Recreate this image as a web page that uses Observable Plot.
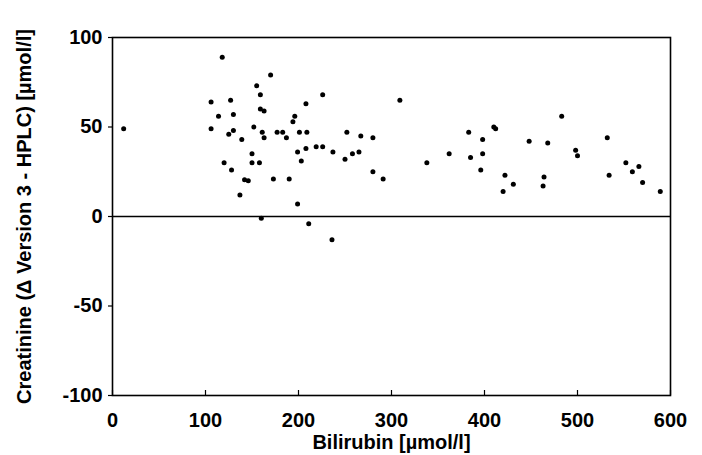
<!DOCTYPE html>
<html>
<head>
<meta charset="utf-8">
<script src="https://cdn.jsdelivr.net/npm/d3@7"></script>
<script src="https://cdn.jsdelivr.net/npm/@observablehq/plot@0.6"></script>
<style>
  html, body { margin: 0; padding: 0; background: #fff; }
  #chart svg { display: block; }
</style>
</head>
<body>
<div id="chart"></div>
<script>
// Bilirubin [µmol/l]
const bilirubin = [
  12, 118, 170, 155, 159, 106, 127, 159, 163, 114, 130, 106, 125, 130, 152, 161, 163, 139, 177, 183, 187,
  150, 120, 150, 158, 128, 142, 146, 173, 190, 137, 160,
  194, 196, 199, 199, 201, 203, 208, 208, 209, 211, 219, 226, 226, 236, 237, 250, 252, 258, 265, 267, 280, 280, 291, 309, 338, 362, 383, 385, 396,
  398, 398, 410, 412, 422, 420, 431, 448, 464, 463, 468, 483, 498, 500, 532, 534, 552, 559, 566, 570, 589
];
// Creatinine difference (Version 3 - HPLC) [µmol/l]
const creatDiff = [
  49, 89, 79, 73, 68, 64, 65, 60, 59, 56, 57, 49, 46, 48, 50, 47, 44, 43, 47, 47, 44,
  35, 30, 30, 30, 26, 20.5, 20, 21, 21, 12, -1,
  53, 56, 7, 36, 47, 31, 63, 38, 47, -4, 39, 68, 39, -13, 36, 32, 47, 35, 36, 45, 44, 25, 21, 65, 30, 35, 47, 33, 26,
  43, 35, 50, 49, 23, 14, 18, 42, 22, 17, 41, 56, 37, 34, 44, 23, 30, 25, 28, 19, 14
];
const xTicks = [0, 100, 200, 300, 400, 500, 600];
const yTicks = [-100, -50, 0, 50, 100];

const data = bilirubin.map((b, i) => ({b, c: creatDiff[i]}));

const chart = Plot.plot({
  width: 702,
  height: 455,
  marginLeft: 112,
  marginRight: 32,
  marginTop: 37,
  marginBottom: 60,
  style: {fontFamily: "'Liberation Sans', Arial, sans-serif", fontSize: "20px", fontWeight: "bold", color: "black", background: "white"},
  x: {domain: [0, 600]},
  y: {domain: [-100, 100]},
  marks: [
    Plot.frame({stroke: "black", strokeWidth: 1.6}),
    Plot.ruleY([0], {stroke: "black", strokeWidth: 1.6}),
    Plot.axisX({ticks: xTicks, tickSize: -5, tickPadding: 22, tickFormat: d => String(d),
      label: "Bilirubin [µmol/l]", labelAnchor: "center", labelOffset: 53, labelArrow: "none",
      fontSize: 20, fontWeight: "bold", strokeWidth: 1.2}),
    Plot.axisY({ticks: yTicks, tickSize: 4, tickPadding: 6, tickFormat: d => d < 0 ? "-" + Math.abs(d) : String(d),
      label: "Creatinine (Δ Version 3 - HPLC) [µmol/l]", labelAnchor: "center", labelOffset: 96, labelArrow: "none",
      fontSize: 20, fontWeight: "bold", strokeWidth: 1.2}),
    Plot.dot(data, {x: "b", y: "c", r: 2.5, fill: "black", stroke: "none"})
  ]
});
document.getElementById("chart").appendChild(chart);
</script>
</body>
</html>
